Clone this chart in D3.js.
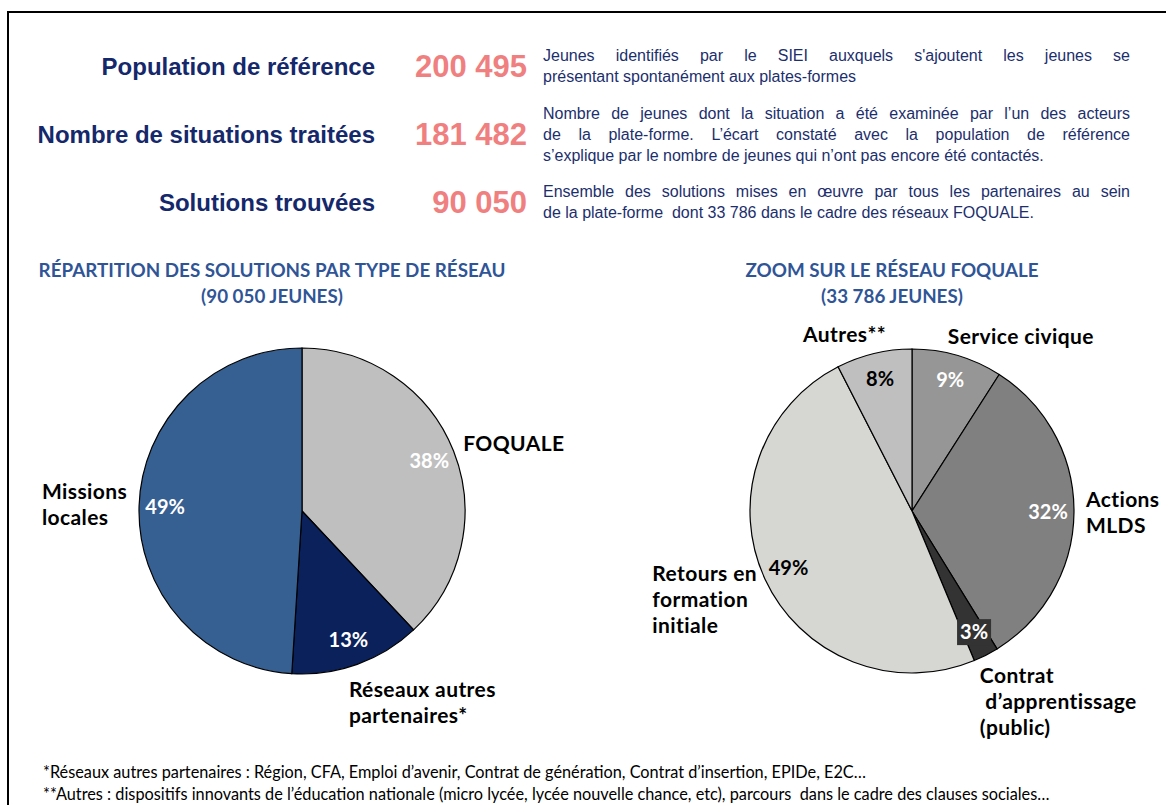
<!DOCTYPE html>
<html>
<head>
<meta charset="utf-8">
<script src="https://cdn.jsdelivr.net/npm/d3@7"></script>
<style>
  body { margin: 0; background: #fff; }
  svg { display: block; }
</style>
</head>
<body>
<svg id="chart" width="1166" height="805"></svg>
<script>
// --- key figures at the top
const summaryLabels = ["Population de référence", "Nombre de situations traitées", "Solutions trouvées"];
const summaryValues = [200495, 181482, 90050];
const summaryNotes = [
  ["Jeunes identifiés par le SIEI auxquels s'ajoutent les jeunes se",
   "présentant spontanément aux plates-formes"],
  ["Nombre de jeunes dont la situation a été examinée par l’un des acteurs",
   "de la plate-forme. L’écart constaté avec la population de référence",
   "s’explique par le nombre de jeunes qui n’ont pas encore été contactés."],
  ["Ensemble des solutions mises en œuvre par tous les partenaires au sein",
   "de la plate-forme  dont 33 786 dans le cadre des réseaux FOQUALE."]
];

// --- left pie : solutions par type de réseau
const networkTitle = ["RÉPARTITION DES SOLUTIONS PAR TYPE DE RÉSEAU", "(90 050 JEUNES)"];
const networkLabels = [["FOQUALE"], ["Réseaux autres", "partenaires*"], ["Missions", "locales"]];
const networkShares = [38, 13, 49];
const networkColors = ["#bfbfbf", "#0a215c", "#376092"];
const networkPctColors = ["#fff", "#fff", "#fff"];

// --- right pie : zoom FOQUALE
const foqualeTitle = ["ZOOM SUR LE RÉSEAU FOQUALE", "(33 786 JEUNES)"];
const foqualeLabels = [["Service civique"], ["Actions", "MLDS"], ["Contrat", " d’apprentissage", "(public)"],
                       ["Retours en", "formation", "initiale"], ["Autres**"]];
const foqualeShares = [9, 32, 2.5, 48.5, 7.5];
const foqualeColors = ["#969696", "#808080", "#333333", "#d6d7d2", "#bfbfbf"];
const foqualePctColors = ["#fff", "#fff", "#fff", "#000", "#000"];

const footnotes = [
  "*Réseaux autres partenaires : Région, CFA, Emploi d’avenir, Contrat de génération, Contrat d’insertion, EPIDe, E2C…",
  "**Autres : dispositifs innovants de l’éducation nationale (micro lycée, lycée nouvelle chance, etc), parcours  dans le cadre des clauses sociales…"
];

const svg = d3.select("#chart");
const frFormat = d3.formatLocale({ decimal: ",", thousands: " ", grouping: [3], currency: ["", " €"] }).format(",");
const labelFont = "Lato, 'Open Sans', sans-serif";

// frame (only top and left edges are visible)
svg.append("rect")
  .attr("x", 8).attr("y", 12)
  .attr("width", 1180).attr("height", 820)
  .attr("fill", "none").attr("stroke", "#000").attr("stroke-width", 2);

// ---------- key figures
const rowCenters = [67, 135, 203];
const headG = svg.append("g");

function justifyLines(g, lines, x, y0, width, lineH) {
  lines.forEach((line, i) => {
    const t = g.append("text").attr("y", y0 + i * lineH).style("white-space", "pre");
    if (i === lines.length - 1) {
      t.attr("x", x).text(line);
      return;
    }
    const words = line.split(/\s+/);
    const spans = words.map(w => t.append("tspan").text(w));
    const ws = spans.map(s => s.node().getComputedTextLength());
    const gap = (width - d3.sum(ws)) / (words.length - 1);
    let cx = x;
    spans.forEach((s, j) => { s.attr("x", cx); cx += ws[j] + gap; });
  });
}

summaryLabels.forEach((lab, i) => {
  const c = rowCenters[i];
  headG.append("text")
    .attr("x", 375).attr("y", c + 8)
    .attr("text-anchor", "end")
    .attr("font-family", "'Liberation Sans', Arial, sans-serif")
    .attr("font-weight", "bold")
    .attr("font-size", 24)
    .attr("fill", "#14286b")
    .text(lab);

  headG.append("text")
    .attr("x", 527).attr("y", c + 10)
    .attr("text-anchor", "end")
    .attr("font-family", "'Liberation Sans', Arial, sans-serif")
    .attr("font-weight", "bold")
    .attr("font-size", 31)
    .attr("fill", "#f08080")
    .text(frFormat(summaryValues[i]));

  const notes = summaryNotes[i];
  const lineH = 21;
  const g = headG.append("g")
    .attr("font-family", "'Liberation Sans', Arial, sans-serif")
    .attr("font-size", 16)
    .attr("fill", "#1c2f6d");
  justifyLines(g, notes, 543, c - (notes.length - 1) * lineH / 2 + 4.5, 587, lineH);
});

// ---------- pies
function drawPie(opts) {
  const { cx, cy, r, titleX, title, labels, shares, colors, pctColors } = opts;
  const g = svg.append("g");

  g.selectAll("text.title")
    .data(title)
    .join("text")
    .attr("class", "title")
    .attr("x", titleX)
    .attr("y", (d, i) => 277 + i * 26)
    .attr("text-anchor", "middle")
    .attr("font-family", labelFont)
    .attr("font-weight", "bold")
    .attr("font-size", 18.8)
    .attr("fill", "#2f5597")
    .text(d => d);

  const pie = d3.pie().sort(null).value(d => d)(shares);
  const total = d3.sum(shares);
  const arc = d3.arc().innerRadius(0).outerRadius(r);
  const pctArc = d3.arc().innerRadius(r * 0.84).outerRadius(r * 0.84);
  const pct = d3.format(".0%");

  const pg = g.append("g").attr("transform", `translate(${cx},${cy})`);
  pg.selectAll("path")
    .data(pie)
    .join("path")
    .attr("d", arc)
    .attr("fill", (d, i) => colors[i])
    .attr("stroke", "#000")
    .attr("stroke-width", 1.2);

  // percentage labels
  pie.forEach((d, i) => {
    const [px, py] = pctArc.centroid(d);
    const t = pg.append("text")
      .attr("x", px).attr("y", py + 7)
      .attr("text-anchor", "middle")
      .attr("font-family", labelFont)
      .attr("font-weight", "bold")
      .attr("font-size", 20)
      .attr("fill", pctColors[i])
      .text(pct(d.value / total));
    // thin slices get a filled box behind the label
    if (d.endAngle - d.startAngle < 0.25) {
      const bb = t.node().getBBox();
      pg.insert("rect", "text")
        .attr("x", bb.x - 3).attr("y", bb.y)
        .attr("width", bb.width + 6).attr("height", bb.height + 2)
        .attr("fill", colors[i]);
    }
  });

  // category labels outside the pie, left-aligned blocks
  const lineH = 26, capH = 15;
  pie.forEach((d, i) => {
    const a = (d.startAngle + d.endAngle) / 2;
    const sx = Math.sin(a), cyA = Math.cos(a);
    const x = (r + 12 * Math.abs(sx)) * sx;
    const y = -(r + 12 + 8 * Math.max(0, -cyA)) * cyA;
    const lines = labels[i];
    const h = (lines.length - 1) * lineH + capH;
    const topY = y - h * (1 + cyA) / 2;
    const t = pg.append("text")
      .attr("font-family", labelFont)
      .attr("font-weight", "bold")
      .attr("font-size", 21)
      .attr("letter-spacing", 0.4)
      .attr("fill", "#000");
    const spans = t.selectAll("tspan")
      .data(lines)
      .join("tspan")
      .attr("y", (l, k) => topY + k * lineH + capH)
      .style("white-space", "pre")
      .text(l => l);
    const w = d3.max(spans.nodes(), n => n.getComputedTextLength());
    const f = sx >= 0 ? 0.1 * (1 - sx) : 1 - 0.2 * (1 + sx);
    spans.attr("x", x - w * f);
  });
}

drawPie({ cx: 302, cy: 511, r: 163, titleX: 272, title: networkTitle,
  labels: networkLabels, shares: networkShares, colors: networkColors, pctColors: networkPctColors });
drawPie({ cx: 912, cy: 511, r: 162, titleX: 892, title: foqualeTitle,
  labels: foqualeLabels, shares: foqualeShares, colors: foqualeColors, pctColors: foqualePctColors });

// ---------- footnotes
svg.append("g")
  .attr("font-family", "Lato, sans-serif")
  .attr("font-size", 16.3)
  .attr("fill", "#000")
  .selectAll("text")
  .data(footnotes)
  .join("text")
  .attr("x", 43)
  .attr("y", (d, i) => 778 + i * 22)
  .style("white-space", "pre")
  .text(d => d);
</script>
</body>
</html>
